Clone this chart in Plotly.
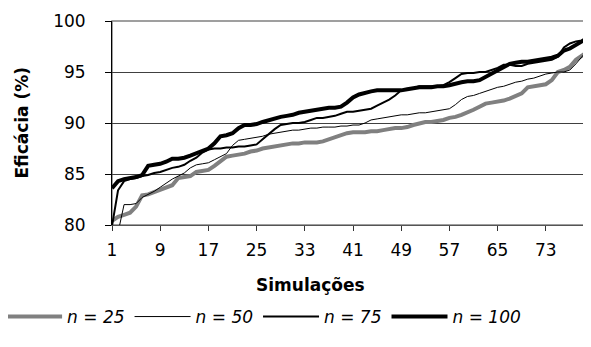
import plotly.graph_objects as go

simulations = list(range(1, 81))

n25 = [80.4, 80.8, 81.0, 81.2, 81.8, 82.9, 83.0, 83.2, 83.4, 83.6,
       83.9, 84.6, 84.7, 84.8, 85.2, 85.3, 85.4, 85.8, 86.3, 86.7,
       86.8, 86.9, 87.0, 87.2, 87.3, 87.5, 87.6, 87.7, 87.8, 87.9,
       88.0, 88.0, 88.1, 88.1, 88.1, 88.2, 88.4, 88.7, 88.9, 89.0,
       89.1, 89.1, 89.1, 89.2, 89.2, 89.3, 89.4, 89.5, 89.5, 89.6,
       89.8, 90.0, 90.1, 90.1, 90.2, 90.3, 90.5, 90.6, 90.8, 91.0,
       91.3, 91.6, 91.9, 92.0, 92.1, 92.2, 92.4, 92.6, 92.9, 93.5,
       93.6, 93.7, 93.8, 94.2, 95.0, 95.2, 95.5, 96.2, 96.6, 97.0]

n50 = [76.5, 79.3, 82.0, 82.0, 82.1, 82.7, 83.0, 83.3, 83.7, 84.1,
       84.5, 84.8, 85.1, 85.6, 85.9, 86.0, 86.1, 86.4, 86.7, 87.0,
       87.8, 88.3, 88.4, 88.5, 88.6, 88.7, 88.9, 89.0, 89.1, 89.2,
       89.3, 89.3, 89.4, 89.5, 89.5, 89.6, 89.6, 89.6, 89.7, 89.7,
       89.8, 89.8, 90.0, 90.3, 90.4, 90.5, 90.6, 90.7, 90.8, 90.8,
       90.9, 91.0, 91.0, 91.1, 91.2, 91.3, 91.4, 91.8, 92.3, 92.6,
       92.7, 92.9, 93.1, 93.3, 93.5, 93.6, 93.8, 94.0, 94.1, 94.3,
       94.4, 94.6, 94.8, 94.9, 95.0, 95.0, 95.2, 95.8, 96.5, 97.2]

n75 = [79.9, 83.4, 84.3, 84.5, 84.6, 84.8, 84.9, 85.1, 85.2, 85.4,
       85.6, 85.7, 85.9, 86.3, 86.6, 87.1, 87.4, 87.5, 87.5, 87.6,
       87.6, 87.7, 87.7, 87.8, 87.9, 88.4, 88.9, 89.4, 89.8, 89.9,
       90.0, 90.0, 90.1, 90.3, 90.5, 90.5, 90.6, 90.7, 90.9, 91.1,
       91.1, 91.2, 91.3, 91.4, 91.7, 92.0, 92.3, 92.7, 93.2, 93.3,
       93.4, 93.6, 93.6, 93.6, 93.6, 93.7, 94.0, 94.4, 94.8, 94.9,
       94.9, 95.0, 95.0, 95.2, 95.4, 95.7, 95.7, 95.6, 95.6, 95.8,
       95.9, 96.0, 96.1, 96.2, 96.5, 97.4, 97.8, 98.0, 98.1, 98.3]

n100 = [83.6, 84.3, 84.5, 84.6, 84.7, 84.9, 85.8, 85.9, 86.0, 86.2,
        86.5, 86.5, 86.6, 86.8, 87.0, 87.2, 87.5, 88.0, 88.7, 88.8,
        89.0, 89.5, 89.8, 89.8, 89.9, 90.1, 90.3, 90.5, 90.6, 90.7,
        90.8, 91.0, 91.1, 91.2, 91.3, 91.4, 91.5, 91.5, 91.6, 92.0,
        92.5, 92.8, 93.0, 93.1, 93.2, 93.2, 93.2, 93.2, 93.2, 93.3,
        93.4, 93.5, 93.5, 93.5, 93.6, 93.6, 93.7, 93.9, 94.0, 94.1,
        94.1, 94.2, 94.5, 94.8, 95.2, 95.5, 95.8, 95.9, 96.0, 96.0,
        96.1, 96.2, 96.3, 96.4, 96.6, 97.1, 97.3, 97.6, 98.0, 98.4]

series_names = ["<i>n = 25</i>", "<i>n = 50</i>", "<i>n = 75</i>", "<i>n = 100</i>"]
x_ticks = [1, 9, 17, 25, 33, 41, 49, 57, 65, 73]
y_ticks = [80, 85, 90, 95, 100]

FONT = "DejaVu Sans"

styles = [("#808080", 4), ("#000000", 1), ("#000000", 2), ("#000000", 4)]
fig = go.Figure()
for name, vals, (col, w) in zip(series_names, [n25, n50, n75, n100], styles):
    fig.add_trace(go.Scatter(x=simulations, y=vals, mode="lines", name=name,
                             line=dict(color=col, width=w)))

fig.update_layout(
    width=583, height=339,
    margin=dict(l=104, r=3, t=13, b=122, autoexpand=False),
    paper_bgcolor="white", plot_bgcolor="white",
    font=dict(family=FONT, size=17, color="black"),
    showlegend=True,
    legend=dict(orientation="h", xref="paper", x=-0.233, xanchor="left",
                yref="paper", y=-0.451, yanchor="middle",
                font=dict(family=FONT, size=17), itemwidth=56,
                bgcolor="rgba(0,0,0,0)"),
    shapes=[dict(type="rect", xref="paper", yref="paper", x0=0, x1=1, y0=0, y1=1,
                 line=dict(color="#808080", width=1.5), layer="below")],
    annotations=[
        dict(text="<b>Eficácia (%)</b>", xref="paper", yref="paper", x=-0.19, y=0.5,
             xanchor="center", yanchor="middle", textangle=-90, showarrow=False,
             font=dict(family=FONT, size=17)),
        dict(text="<b>Simulações</b>", xref="paper", yref="paper", x=0.416, y=-0.294,
             xanchor="center", yanchor="middle", showarrow=False,
             font=dict(family=FONT, size=17)),
    ],
)

fig.update_xaxes(range=[1, 80], tickmode="array", tickvals=x_ticks,
                 ticktext=[str(v) for v in x_ticks], tickangle=0, automargin=False,
                 ticks="outside", ticklen=5, tickcolor="#333", tickwidth=1,
                 showline=True, linecolor="#555", linewidth=1,
                 showgrid=False, zeroline=False, ticklabelstandoff=5)
fig.update_yaxes(range=[80, 100], tickmode="array", tickvals=y_ticks, automargin=False,
                 ticks="outside", ticklen=6, tickcolor="black", tickwidth=1,
                 showline=True, linecolor="black", linewidth=1,
                 showgrid=True, gridcolor="#404040", gridwidth=1, zeroline=False,
                 ticklabelstandoff=16)

fig.write_html("out.html")
